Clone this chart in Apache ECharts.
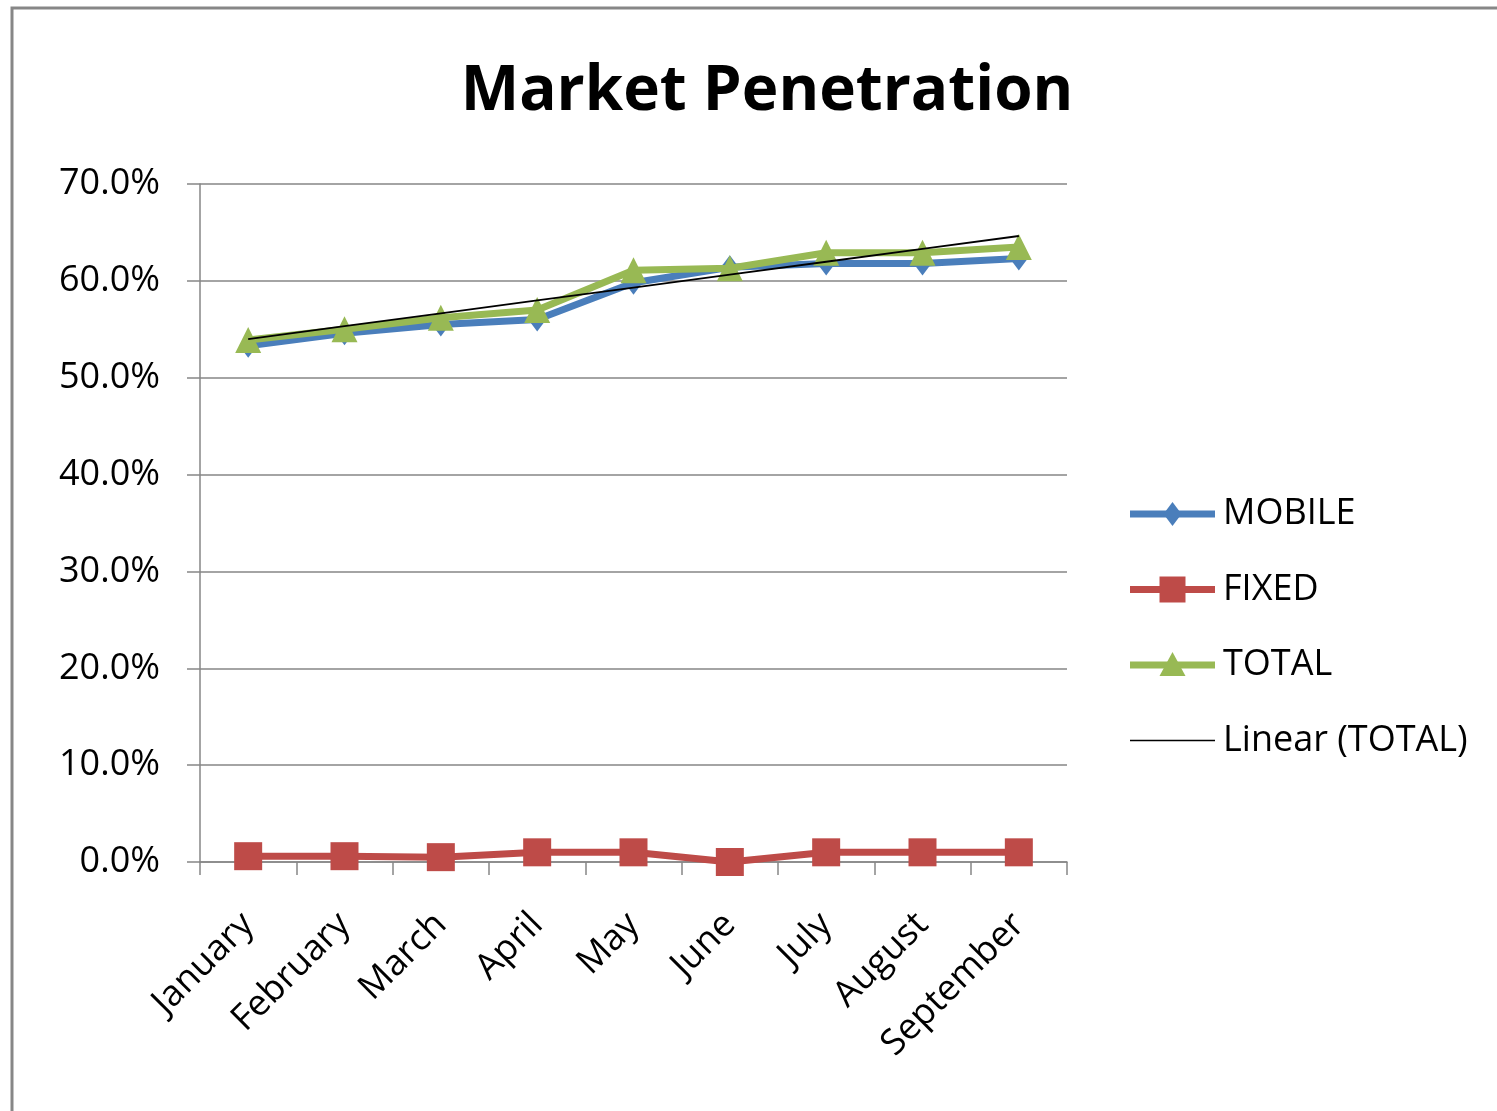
<!DOCTYPE html>
<html>
<head>
<meta charset="utf-8">
<script src="https://cdn.jsdelivr.net/npm/echarts@6/dist/echarts.min.js"></script>
<style>
  html, body { margin: 0; padding: 0; background: #fff; }
  #chart { width: 1497px; height: 1111px; }
</style>
</head>
<body>
<div id="chart"></div>
<script>
// Monthly market penetration (%)
var months = ['January', 'February', 'March', 'April', 'May', 'June', 'July', 'August', 'September'];
var mobile = [53.3, 54.6, 55.5, 56.0, 59.8, 61.4, 61.8, 61.8, 62.3];
var fixed  = [0.6, 0.6, 0.5, 1.0, 1.0, 0.0, 1.0, 1.0, 1.0];
var total  = [53.9, 55.0, 56.2, 57.0, 61.1, 61.3, 62.9, 62.9, 63.5];
var yTicks = [0, 10, 20, 30, 40, 50, 60, 70];

// Least-squares trend line through the TOTAL series
function linearTrend(values) {
  var n = values.length, sx = 0, sy = 0, sxx = 0, sxy = 0;
  for (var i = 0; i < n; i++) {
    var x = i + 1;
    sx += x; sy += values[i]; sxx += x * x; sxy += x * values[i];
  }
  var slope = (n * sxy - sx * sy) / (n * sxx - sx * sx);
  var icpt = (sy - slope * sx) / n;
  return values.map(function (_, i) { return +(icpt + slope * (i + 1)).toFixed(3); });
}
var totalTrend = linearTrend(total);

var FONT = 'Open Sans';
var C_MOBILE = '#4a7ebb', C_FIXED = '#be4b48', C_TOTAL = '#98b954', C_TREND = '#000000';

// Legend entries (drawn as graphic elements: line sample + marker + label)
var legendItems = [
  { name: 'MOBILE', color: C_MOBILE, marker: 'diamond', width: 7 },
  { name: 'FIXED', color: C_FIXED, marker: 'square', width: 7 },
  { name: 'TOTAL', color: C_TOTAL, marker: 'triangle', width: 7 },
  { name: 'Linear (TOTAL)', color: C_TREND, marker: null, width: 1.5 }
];

function legendGraphics() {
  var out = [];
  var x0 = 1130, x1 = 1215, yStart = 514, step = 75.5;
  legendItems.forEach(function (it, i) {
    var y = yStart + i * step, cx = (x0 + x1) / 2;
    out.push({ type: 'line', shape: { x1: x0, y1: y, x2: x1, y2: y },
      style: { stroke: it.color, lineWidth: it.width }, silent: true });
    if (it.marker === 'diamond') {
      out.push({ type: 'polygon', shape: { points: [[cx, y - 12], [cx + 9, y], [cx, y + 12], [cx - 9, y]] },
        style: { fill: it.color }, silent: true });
    } else if (it.marker === 'square') {
      out.push({ type: 'rect', shape: { x: cx - 13, y: y - 13, width: 26, height: 26 },
        style: { fill: it.color }, silent: true });
    } else if (it.marker === 'triangle') {
      out.push({ type: 'polygon', shape: { points: [[cx, y - 13], [cx + 13, y + 11], [cx - 13, y + 11]] },
        style: { fill: it.color }, silent: true });
    }
    out.push({ type: 'text', x: 1223, y: y,
      style: { text: it.name, fontFamily: FONT, fontSize: 36, fill: '#000',
        textVerticalAlign: 'middle', verticalAlign: 'middle' }, silent: true });
  });
  return out;
}

var chart = echarts.init(document.getElementById('chart'), null, { renderer: 'canvas' });

chart.setOption({
  animation: false,
  backgroundColor: '#ffffff',
  title: {
    text: 'Market Penetration',
    left: 762, top: 56, textAlign: 'center',
    textStyle: { fontFamily: FONT, fontWeight: 'bold', fontSize: 62, color: '#000' }
  },
  graphic: [{
    type: 'rect',
    shape: { x: 12, y: 8, width: 1600, height: 1200 },
    style: { fill: 'none', stroke: '#878787', lineWidth: 3 },
    silent: true
  }].concat(legendGraphics()),
  grid: { left: 200, right: 430, top: 184, bottom: 249, containLabel: false },
  xAxis: {
    type: 'category',
    data: months,
    boundaryGap: true,
    axisLine: { lineStyle: { color: '#868686', width: 1.5 } },
    axisTick: { show: true, length: 13, lineStyle: { color: '#868686', width: 1.5 } },
    axisLabel: { rotate: 45, margin: 57, fontFamily: FONT, fontSize: 36, color: '#000' },
    splitLine: { show: false }
  },
  yAxis: {
    type: 'value',
    min: yTicks[0], max: yTicks[yTicks.length - 1], interval: 10,
    axisLine: { show: true, lineStyle: { color: '#868686', width: 1.5 } },
    axisTick: { show: true, inside: false, length: 13, lineStyle: { color: '#868686', width: 1.5 } },
    axisLabel: {
      margin: 40, fontFamily: FONT, fontSize: 36, color: '#000',
      formatter: function (v) { return v.toFixed(1) + '%'; }
    },
    splitLine: { lineStyle: { color: '#868686', width: 1.5 } }
  },
  series: [
    {
      name: 'MOBILE', type: 'line', data: mobile,
      symbol: 'diamond', symbolSize: [18, 24],
      lineStyle: { color: C_MOBILE, width: 7 },
      itemStyle: { color: C_MOBILE }, z: 2
    },
    {
      name: 'FIXED', type: 'line', data: fixed,
      symbol: 'rect', symbolSize: 28,
      lineStyle: { color: C_FIXED, width: 7 },
      itemStyle: { color: C_FIXED }, z: 2
    },
    {
      name: 'TOTAL', type: 'line', data: total,
      symbol: 'triangle', symbolSize: 26,
      lineStyle: { color: C_TOTAL, width: 7 },
      itemStyle: { color: C_TOTAL }, z: 3
    },
    {
      name: 'Linear (TOTAL)', type: 'line', data: totalTrend,
      symbol: 'none',
      lineStyle: { color: C_TREND, width: 1.8 },
      itemStyle: { color: C_TREND }, z: 4
    }
  ]
});
</script>
</body>
</html>
